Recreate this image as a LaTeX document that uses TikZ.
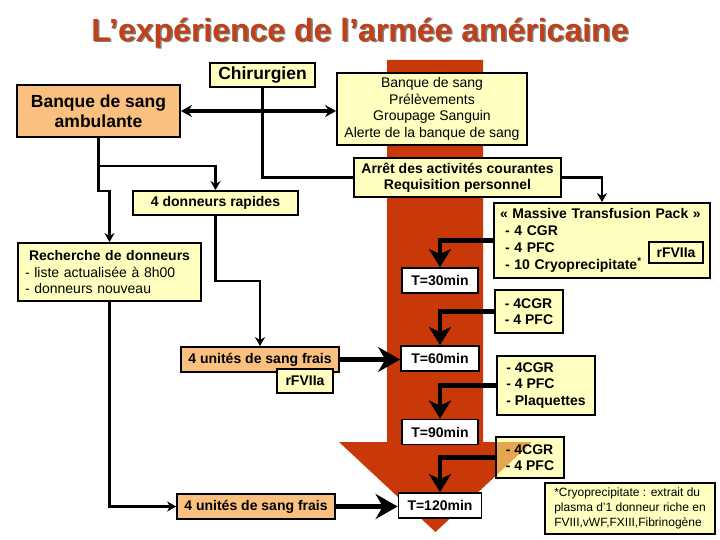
\documentclass[tikz,border=0pt]{standalone}
\usepackage{fontspec}
\setmainfont{Liberation Sans}
\usetikzlibrary{arrows.meta}

\definecolor{boxyellow}{RGB}{255,255,192}
\definecolor{boxorange}{RGB}{250,192,128}
\definecolor{flowred}{RGB}{200,56,8}
\definecolor{titlered}{RGB}{192,64,24}

\tikzset{
  box/.style={draw, line width=1.8pt, inner sep=0pt, align=center,
    font=\fontsize{14}{16.5}\selectfont\bfseries},
  yel/.style={box, fill=boxyellow},
  ora/.style={box, fill=boxorange},
  tbox/.style={box, fill=white, minimum height=25pt},
  link/.style={line width=2.6pt, -{Stealth[length=9pt,width=10pt]}},
  feed/.style={line width=4.2pt, -{Stealth[length=18pt,width=22pt,inset=5pt]}},
  push/.style={line width=5.5pt, -{Stealth[length=22pt,width=25pt]}}
}

\begin{document}
\begin{tikzpicture}[x=1pt,y=-1pt]
\useasboundingbox (0,0) rectangle (720,540);

% titre
\node[text=black!50, font=\fontsize{32}{36}\selectfont\bfseries] (ombre) at (361.5,34.5) {L’expérience de l’armée américaine};
\node[text=titlered, font=\fontsize{32}{36}\selectfont\bfseries] (titre) at (360,33) {L’expérience de l’armée américaine};

% grande fleche
\fill[flowred] (387,60) -- (483,60) -- (483,442) -- (532,442) -- (435.5,532) -- (339,442) -- (387,442) -- cycle;

% boites
\node[ora, minimum width=163pt, minimum height=52pt, font=\fontsize{17.5}{20}\selectfont\bfseries] (amb) at (98.5,111) {Banque de sang\\ambulante};
\node[yel, minimum width=105pt, minimum height=24pt, font=\fontsize{17.5}{20}\selectfont\bfseries] (chir) at (262.5,75) {Chirurgien};
\node[yel, minimum width=190pt, minimum height=72pt, font=\fontsize{14}{16.7}\selectfont] (bsang) at (432,109) {Banque de sang\\Prélèvements\\Groupage Sanguin\\Alerte de la banque de sang};
\node[yel, minimum width=207pt, minimum height=39pt] (arret) at (457.5,177.5) {Arrêt des activités courantes\\Requisition personnel};
\node[yel, minimum width=165pt, minimum height=24pt] (don4) at (215.5,203) {4 donneurs rapides};
\node[yel, minimum height=58pt, text width=169pt, inner xsep=7pt, align=left] (rech) at (109.5,272) {\hspace*{4pt}Recherche de donneurs\\\mdseries - liste actualisée à 8h00\\\mdseries - donneurs nouveau};
\node[yel, minimum height=75pt, text width=204pt, inner xsep=6pt, align=left, font=\fontsize{14}{17}\selectfont\bfseries] (mtp) at (602,240.5) {« Massive Transfusion Pack »\\\hspace*{5pt}- 4 CGR\\\hspace*{5pt}- 4 PFC\\\hspace*{5pt}- 10 Cryoprecipitate\textsuperscript{*}};
\node[yel, minimum width=54pt, minimum height=21pt] (rf1) at (676,252.5) {rFVIIa};

\foreach \n/\y/\w in {30/280.5/76, 60/358.5/78, 90/432/76, 120/505.5/83}
  \node[tbox, minimum width=\w pt] (t\n) at (440,\y) {T=\n min};

\node[yel, minimum width=68pt, minimum height=43pt, align=left] (cg1) at (529,311.5) {- 4CGR\\- 4 PFC};
\node[yel, minimum width=98pt, minimum height=59pt, align=left] (cg2) at (546,385.5) {- 4CGR\\- 4 PFC\\- Plaquettes};
\node[box, fill={rgb,255:red,255;green,255;blue,140}, fill opacity=0.55, text opacity=1, minimum width=68pt, minimum height=41pt, align=left] (cg3) at (530,457.5) {- 4CGR\\- 4 PFC};
\node[yel, minimum width=170pt, minimum height=51pt, align=left, font=\fontsize{12}{15}\selectfont] (foot) at (630,508.5) {*Cryoprecipitate : extrait du\\plasma d'1 donneur riche en\\FVIII,vWF,FXIII,Fibrinogène};

\node[ora, minimum width=158pt, minimum height=25pt] (uni1) at (260,359.5) {4 unités de sang frais};
\node[yel, minimum width=56pt, minimum height=24pt] (rf2) at (305,381) {rFVIIa};
\node[ora, minimum width=158pt, minimum height=25pt] (uni2) at (256,506.5) {4 unités de sang frais};

% liaisons
\draw[line width=3.4pt, {Stealth[length=11pt,width=12pt]}-{Stealth[length=11pt,width=12pt]}] (amb.east) -- (amb.east -| bsang.west);
\draw[line width=2.6pt] (chir.south) |- (arret.west);
\draw[link] (arret.east) -| (mtp.north);
\path (amb.south) ++(0,28) coordinate (fork);
\draw[line width=2.6pt] (amb.south) -- (fork);
\draw[link] (fork) -| (don4.north);
\draw[link] (fork) -- ++(0,25) -| (rech.north);
\draw[link] (don4.south) -- ++(0,65) -| (uni1.north);
\draw[link] (rech.south) |- (uni2.west);
\draw[push] (uni1.east) -- (uni1.east -| t60.west);
\draw[push] (uni2.east) -- (uni2.east -| t120.west);
\foreach \a/\b in {mtp/t30, cg1/t60, cg2/t90, cg3/t120}
  \draw[feed] (\a.west) -| (\b.north);
\end{tikzpicture}
\end{document}
